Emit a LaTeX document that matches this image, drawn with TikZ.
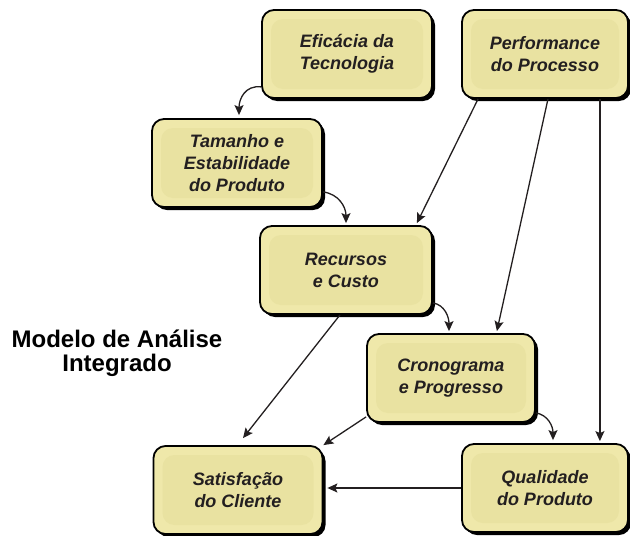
\documentclass[tikz,border=0pt]{standalone}
\usepackage{fontspec}
\setmainfont{Liberation Sans}
\usepackage{tikz}
\usetikzlibrary{arrows.meta,calc,shadows}
\definecolor{boxfill}{RGB}{239,232,170}
\definecolor{boxinner}{RGB}{233,226,161}
\definecolor{ink}{RGB}{35,31,32}

\begin{document}
\begin{tikzpicture}[x=1pt,y=-1pt,
        modelbox/.style={draw=black,line width=1.8pt,fill=boxfill,rounded corners=12pt,
            minimum width=#1,minimum height=88pt,align=center,text=ink,
            font=\fontsize{18}{22}\selectfont\bfseries\itshape,
            drop shadow={shadow xshift=3pt,shadow yshift=-3pt,fill=black,opacity=1},
            path picture={\fill[boxinner] ([shift={(9pt,-9pt)}]path picture bounding box.north west)
                rectangle ([shift={(-9pt,9pt)}]path picture bounding box.south east);}},
        modelbox/.default=168pt,
        link/.style={->,>={Stealth[length=10pt,width=9pt,inset=2pt]},line width=1.3pt,draw=ink}]
        \useasboundingbox (0,0) rectangle (630,536);
        \coordinate (E) at (347,54);
        \coordinate (P) at (545,54);
        \coordinate (T) at (237,163);
        \coordinate (R) at (346,270);
        \coordinate (C) at (451,378);
        \coordinate (S) at (238,490);
        \coordinate (Q) at (545,488);
        \node[modelbox=170pt] (efic) at (E) {Eficácia da\\Tecnologia};
        \node[modelbox=166pt] (perf) at (P) {Performance\\do Processo};
        \node[modelbox=170pt] (tam) at (T) {Tamanho e\\Estabilidade\\do Produto};
        \node[modelbox=172pt] (rec) at (R) {Recursos\\e Custo};
        \node[modelbox] (cron) at (C) {Cronograma\\e Progresso};
        \node[modelbox=169pt] (sat) at (S) {Satisfação\\do Cliente};
        \node[modelbox=166pt] (qual) at (Q) {Qualidade\\do Produto};
        \node[font=\fontsize{24}{24}\selectfont\bfseries,align=center] (title) at (117,353) {Modelo de Análise\\Integrado};
        \begin{scope}[link]
            \draw ([yshift=12pt]efic.south west) .. controls +(-16,-2) and +(0,-16) .. ([shift={(2pt,3pt)}]tam.north);
            \draw ([yshift=16pt]tam.south east) .. controls +(16,2) and +(0,-16) .. ([yshift=2pt]rec.north);
            \draw ([xshift=17pt]perf.south west) -- ([xshift=-16pt,yshift=2pt]rec.north east);
            \draw ([xshift=3pt]perf.south) -- ([xshift=-39pt,yshift=2pt]cron.north east);
            \draw ([xshift=-29pt]perf.south east) -- ([xshift=-29pt,yshift=2pt]qual.north east);
            \draw ([yshift=12pt]rec.south east) .. controls +(12,2) and +(0,-14) .. ([xshift=-2pt,yshift=2pt]cron.north);
            \draw ([xshift=-6pt]rec.south) -- ([shift={(5pt,7pt)}]sat.north);
            \draw ([yshift=6pt]cron.south west) -- (sat.north east);
            \draw ([yshift=10pt]cron.south east) .. controls +(12,2) and +(0,-14) .. ([shift={(8pt,3pt)}]qual.north);
            \draw[shorten >=4pt] (qual.west) -- (qual.west -| sat.east);
        \end{scope}
\end{tikzpicture}
\end{document}
